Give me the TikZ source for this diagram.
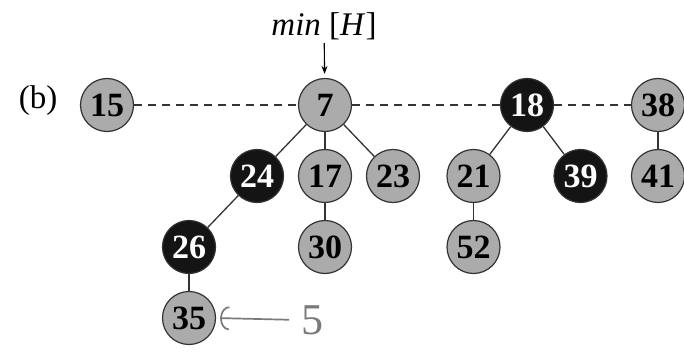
\documentclass[tikz,border=0pt]{standalone}
\usepackage{fontspec}
\setmainfont{Liberation Serif}
\usetikzlibrary{arrows.meta}

\begin{document}
\begin{tikzpicture}[
      x=1pt, y=1pt,
      level distance=71pt,
      level 1/.style={sibling distance=68pt},
      level 2/.style={sibling distance=136pt},
      key/.style={circle, draw=black!80, fill=black!33, line width=1.2pt,
        minimum size=53pt, inner sep=0pt, font=\bfseries\fontsize{34}{34}\selectfont},
      marked/.style={key, fill=black!92, text=white},
      edge from parent/.style={draw, black!80, line width=1.3pt},
      rootlist/.style={black!80, line width=1.2pt, dash pattern=on 8pt off 6pt},
      pencil/.style={black!52, line width=1.7pt}
    ]
    \useasboundingbox (0,0) rectangle (684,-358);

    \node[font=\fontsize{33}{33}\selectfont] (tag) at (38,-101) {(b)};
    \node[font=\fontsize{33}{33}\selectfont] (minH) at (324,-26) {\textit{min} [\textit{H}]};

    % root list
    \node[key] (n15) at (107,-105) {15};
    \node[key] (n7) at (325,-105) {7}
      child {node[marked] (n24) {24}
        child {node[marked] (n26) {26}
          child {node[key] (n35) {35}}
        }
        child[missing]
      }
      child {node[key] (n17) {17}
        child {node[key] (n30) {30}}
      }
      child {node[key] (n23) {23}};
    \begin{scope}[level 1/.style={sibling distance=107pt}]
    \node[marked] (n18) at (527,-105) {18}
      child {node[key] (n21) {21}
        child {node[key] (n52) {52}}
      }
      child {node[marked] (n39) {39}};
    \end{scope}
    \node[key] (n38) at (658,-105) {38}
      child {node[key] (n41) {41}};

    \draw[rootlist] (n15) -- (n7);
    \draw[rootlist] (n7) -- (n18);
    \draw[rootlist] (n18) -- (n38);

    \draw[line width=1.1pt, -{Stealth[length=8pt,width=6pt]}, shorten >=4pt] (minH) -- (n7);

    % pencil note beside 35
    \node[pencil, font=\fontsize{44}{44}\selectfont, inner sep=1pt] (note) at (312,-320) {5};
    \draw[pencil, -{Arc Barb[length=9pt,width=24pt]}, shorten <=10pt, shorten >=4pt] (note.west) -- (n35.east);
\end{tikzpicture}
\end{document}
